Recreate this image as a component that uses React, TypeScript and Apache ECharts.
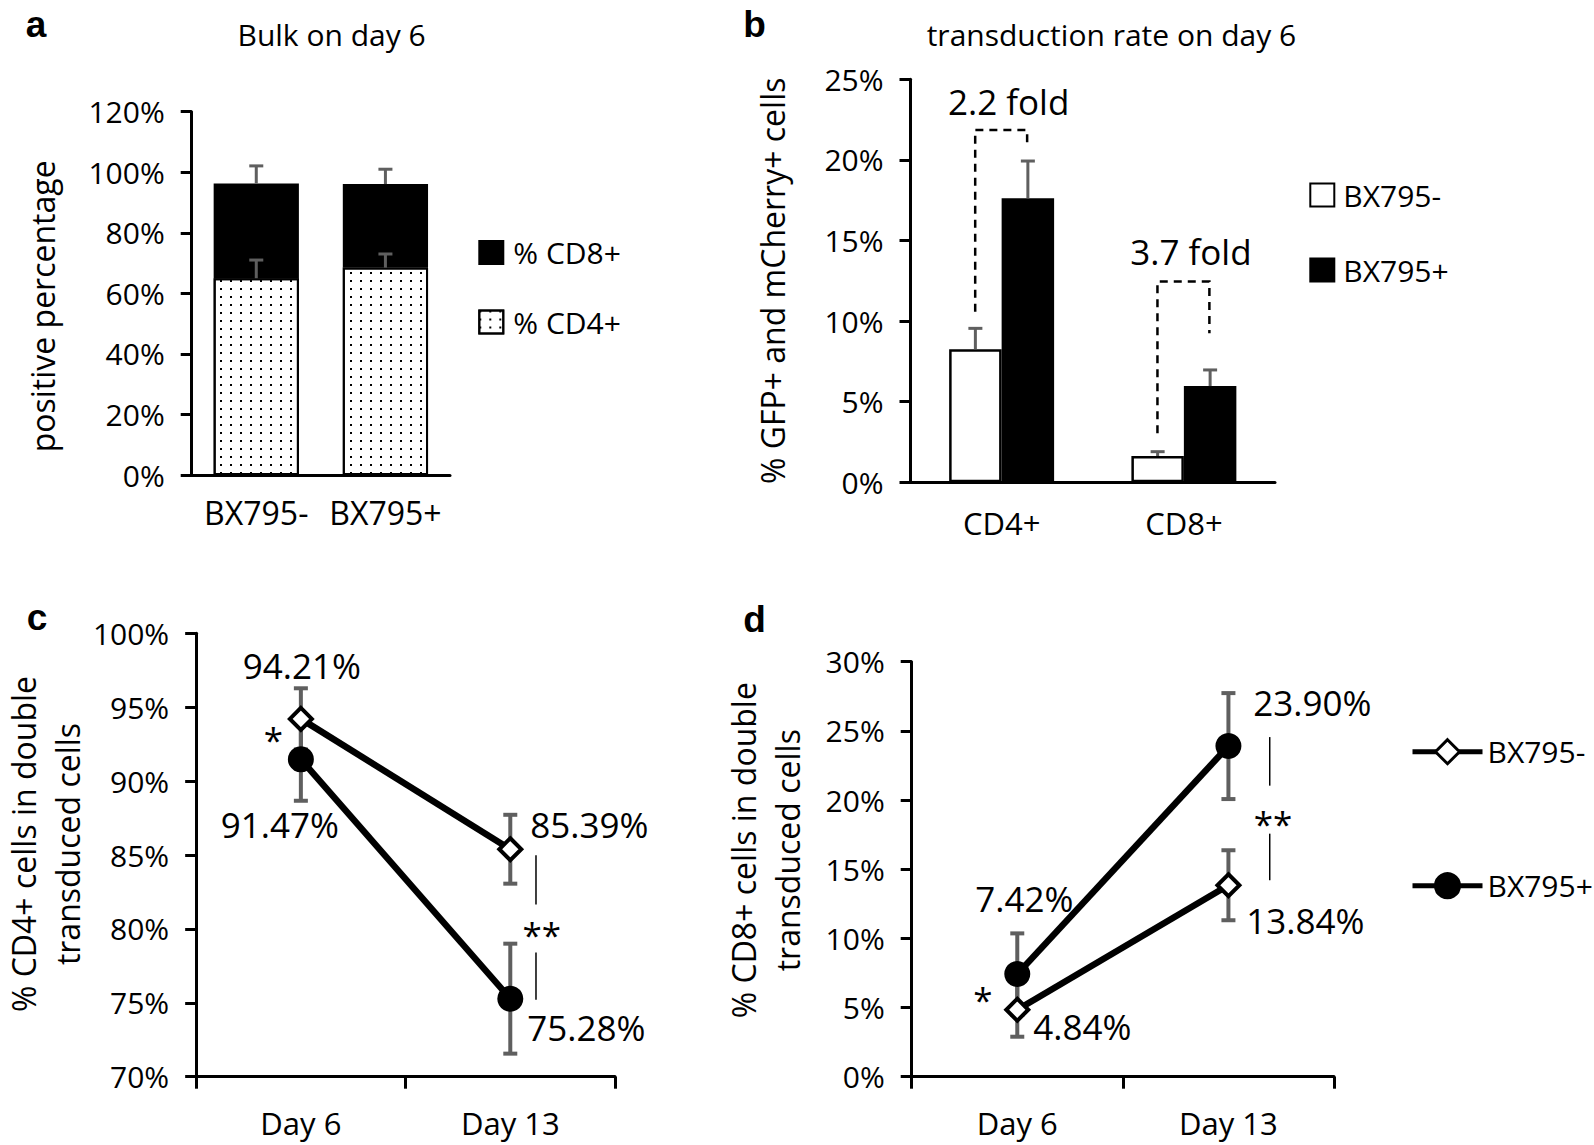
import React, { useEffect, useRef } from "react";
import * as echarts from "echarts";

const FONT = "'Open Sans', 'Liberation Sans', sans-serif";
const LETTER_FONT = "bold 37px 'Liberation Sans', Arial, sans-serif";
const ERR_COLOR = "#5f5f5f";

// ---- panel a: Bulk on day 6 ----
const bulkCategories = ["BX795-", "BX795+"];
const bulkCD4 = [65.0, 68.5];
const bulkCD8 = [31.3, 27.6];
const bulkCD4Err = [6.0, 4.5];
const bulkTotalErr = [5.8, 4.9];

// ---- panel b: transduction rate on day 6 ----
const transCategories = ["CD4+", "CD8+"];
const transMinus = [8.25, 1.63];
const transPlus = [17.62, 5.97];
const transMinusErr = [1.3, 0.27];
const transPlusErr = [2.31, 1.0];
const foldLabels = ["2.2 fold", "3.7 fold"];
const foldBracketLeft = [10.58, 3.04];
const foldBracketTop = [21.86, 12.45];
const foldBracketRight = [20.92, 9.24];
const foldLabelLevel = [23.6, 14.3];

// ---- panels c and d ----
const days = ["Day 6", "Day 13"];
const cd4Minus = [94.21, 85.39];
const cd4MinusErr = [2.07, 2.33];
const cd4Plus = [91.47, 75.28];
const cd4PlusErr = [2.8, 3.72];
const cd8Minus = [4.84, 13.84];
const cd8MinusErr = [1.95, 2.53];
const cd8Plus = [7.42, 23.9];
const cd8PlusErr = [2.94, 3.83];
const sigMarks = ["*", "**"];

// label offsets (style)
const offC = { minus: [[1, -53], [79, -25]], plus: [[-21, 65], [76, 29]] };
const offD = { minus: [[65, 17], [77, 35]], plus: [[7, -76], [84, -44]] };
const sigStyleC = { starDx: -27.5, starDy: 0, lineDx: 25.7, textDx: 31.5, textDy: 11, topAdj: 6, botAdj: 1, gapDy: 4.5 };
const sigStyleD = { starDx: -34.5, starDy: 8, lineDx: 41.3, textDx: 44.7, textDy: 8.3, topAdj: -9, botAdj: -5, gapDy: -6 };

const black = "#000";
const axisLine = { show: true, onZero: false, lineStyle: { color: black, width: 3 } };

function yAxis(gridIndex: number, min: number, max: number, interval: number, name: string, nameGap: number, padding: number[]) {
  return {
    type: "value",
    gridIndex,
    min,
    max,
    interval,
    axisLine,
    axisTick: { show: true, length: 11, lineStyle: { color: black, width: 3 } },
    splitLine: { show: false },
    axisLabel: { formatter: "{value}%", fontSize: 30, fontFamily: FONT, color: black, margin: 27 },
    name,
    nameLocation: "middle",
    nameRotate: 90,
    nameGap,
    nameTextStyle: { fontSize: 32, fontFamily: FONT, color: black, lineHeight: 44, padding },
  };
}

function xAxis(gridIndex: number, data: string[], ticks: boolean, margin: number, fontSize: number) {
  return {
    type: "category",
    gridIndex,
    data,
    axisLine,
    axisTick: { show: ticks, length: 12, interval: 0, lineStyle: { color: black, width: 3 } },
    axisLabel: { fontSize, fontFamily: FONT, color: black, margin, interval: 0 },
  };
}

function errorBars(idx: number, values: number[], errs: number[], offsetFrac: number, plusOnly: boolean, width: number, z: number) {
  return {
    type: "custom",
    xAxisIndex: idx,
    yAxisIndex: idx,
    z,
    silent: true,
    data: values.map((v, i) => [i, v, errs[i]]),
    renderItem: (params: any, api: any) => {
      const i = api.value(0);
      const v = api.value(1);
      const e = api.value(2);
      const base = api.coord([i, v]);
      const band = api.size([1, 0])[0];
      const x = base[0] + offsetFrac * band;
      const yTop = api.coord([i, v + e])[1];
      const yBot = plusOnly ? base[1] : api.coord([i, v - e])[1];
      const style = { stroke: ERR_COLOR, lineWidth: width, fill: null };
      const children: any[] = [
        { type: "line", shape: { x1: x, y1: yTop, x2: x, y2: yBot }, style },
        { type: "line", shape: { x1: x - 7, y1: yTop, x2: x + 7, y2: yTop }, style },
      ];
      if (!plusOnly) children.push({ type: "line", shape: { x1: x - 7, y1: yBot, x2: x + 7, y2: yBot }, style });
      return { type: "group", children };
    },
  };
}

function sigSeries(idx: number, a: number[], b: number[], marks: string[], st: any) {
  return {
    type: "custom",
    xAxisIndex: idx,
    yAxisIndex: idx,
    z: 6,
    silent: true,
    data: a.map((v, i) => [i, v, b[i]]),
    renderItem: (params: any, api: any) => {
      const i = api.value(0);
      const p1 = api.coord([i, api.value(1)]);
      const p2 = api.coord([i, api.value(2)]);
      const x = p1[0];
      const yHigh = Math.min(p1[1], p2[1]);
      const yLow = Math.max(p1[1], p2[1]);
      const mid = (yHigh + yLow) / 2;
      const text = marks[params.dataIndex];
      const ts = { text, fontSize: 35, fontFamily: FONT, fill: black, align: "center", verticalAlign: "middle" };
      if (text.length === 1) {
        return { type: "text", x: x + st.starDx, y: mid + st.starDy, style: ts };
      }
      const gc = mid + st.gapDy;
      const lx = x + st.lineDx;
      const ls = { stroke: black, lineWidth: 1.5 };
      return {
        type: "group",
        children: [
          { type: "line", shape: { x1: lx, y1: yHigh + st.topAdj, x2: lx, y2: gc - 24 }, style: ls },
          { type: "line", shape: { x1: lx, y1: gc + 24, x2: lx, y2: yLow + st.botAdj }, style: ls },
          { type: "text", x: x + st.textDx, y: mid + st.textDy, style: ts },
        ],
      };
    },
  };
}

const dataLabel = {
  show: true,
  position: "inside",
  formatter: (p: any) => Number(p.value).toFixed(2) + "%",
  fontSize: 35,
  fontFamily: FONT,
  color: black,
  textBorderWidth: 0,
};

function lineSeries(idx: number, name: string, values: number[], offs: number[][], diamond: boolean) {
  return {
    type: "line",
    name,
    xAxisIndex: idx,
    yAxisIndex: idx,
    z: 4,
    data: values.map((v, i) => ({ value: v, label: { offset: offs[i] } })),
    symbol: diamond ? "diamond" : "circle",
    symbolSize: diamond ? 22 : 26,
    itemStyle: diamond
      ? { color: "#fff", borderColor: black, borderWidth: 4 }
      : { color: black, borderColor: black, borderWidth: 0 },
    lineStyle: { color: black, width: 6.5 },
    label: dataLabel,
    clip: false,
  };
}

function letter(text: string, x: number, y: number) {
  return { type: "text", x, y, style: { text, font: LETTER_FONT, fill: black, align: "center", verticalAlign: "middle" } };
}

function buildOption(): any {
  const legendText = { fontSize: 30, fontFamily: FONT, color: black };
  return {
    animation: false,
    backgroundColor: "#fff",
    textStyle: { fontFamily: FONT },
    grid: [
      { left: 191.7, top: 111.7, width: 258.3, height: 363.3 },
      { left: 910.5, top: 79.3, width: 364.5, height: 403 },
      { left: 191.7, top: 633.3, width: 423.3, height: 443.4 },
      { left: 911.7, top: 661.7, width: 422.3, height: 415 },
    ],
    xAxis: [
      xAxis(0, bulkCategories, false, 21, 32),
      xAxis(1, transCategories, false, 25, 31),
      xAxis(2, days, true, 31, 31),
      xAxis(3, days, true, 31, 31),
    ],
    yAxis: [
      yAxis(0, 0, 120, 20, "positive percentage", 127, [0, 26, 0, 0]),
      yAxis(1, 0, 25, 5, "% GFP+ and mCherry+ cells", 116, [0, 0, 0, 0]),
      yAxis(2, 70, 100, 5, "% CD4+ cells in double\ntransduced cells", 106, [0, 0, 0, 22]),
      yAxis(3, 0, 30, 5, "% CD8+ cells in double\ntransduced cells", 102.3, [0, 0, 0, 38]),
    ],
    legend: [
      {
        data: ["% CD8+", "% CD4+"],
        orient: "vertical",
        left: 478.3,
        top: 237.5,
        itemWidth: 24,
        itemHeight: 23,
        itemGap: 39.5,
        icon: "rect",
        padding: 0,
        selectedMode: false,
        textStyle: { ...legendText, lineHeight: 23, padding: [0, 0, 0, 5] },
        itemStyle: { borderWidth: 2 },
      },
      {
        data: ["BX795-", "BX795+"],
        orient: "vertical",
        left: 1309.3,
        top: 180,
        itemWidth: 24,
        itemHeight: 23,
        itemGap: 45,
        icon: "rect",
        padding: 0,
        selectedMode: false,
        textStyle: { ...legendText, lineHeight: 23, padding: [0, 0, 0, 4] },
        itemStyle: { borderWidth: 2 },
      },
      {
        data: ["d:BX795-", "d:BX795+"],
        orient: "vertical",
        left: 1410,
        top: 736.7,
        itemWidth: 70,
        itemHeight: 30,
        itemGap: 104,
        padding: 0,
        selectedMode: false,
        formatter: (n: string) => n.replace("d:", ""),
        textStyle: { ...legendText, lineHeight: 30 },
        lineStyle: { width: 5 },
        itemStyle: { borderWidth: 3 },
      },
    ],
    series: [
      // panel a
      {
        type: "bar",
        name: "% CD4+",
        xAxisIndex: 0,
        yAxisIndex: 0,
        stack: "bulk",
        barWidth: "66%",
        data: bulkCD4,
        itemStyle: {
          color: "#fff",
          borderColor: black,
          borderWidth: 2,
          decal: { symbol: "rect", symbolSize: 1, dashArrayX: [2, 8], dashArrayY: [2, 6], color: black, rotation: 0 },
        },
      },
      {
        type: "bar",
        name: "% CD8+",
        xAxisIndex: 0,
        yAxisIndex: 0,
        stack: "bulk",
        barWidth: "66%",
        data: bulkCD8,
        itemStyle: { color: black, borderColor: black, borderWidth: 2 },
      },
      errorBars(0, bulkCD4, bulkCD4Err, 0, true, 3, 5),
      errorBars(0, bulkCD4.map((v, i) => v + bulkCD8[i]), bulkTotalErr, 0, true, 3, 5),
      // panel b
      {
        type: "bar",
        name: "BX795-",
        xAxisIndex: 1,
        yAxisIndex: 1,
        barWidth: "28.8%",
        barGap: "0%",
        data: transMinus,
        itemStyle: { color: "#fff", borderColor: black, borderWidth: 2.5 },
      },
      {
        type: "bar",
        name: "BX795+",
        xAxisIndex: 1,
        yAxisIndex: 1,
        barWidth: "28.8%",
        barGap: "0%",
        data: transPlus,
        itemStyle: { color: black, borderColor: black, borderWidth: 2.5 },
      },
      errorBars(1, transMinus, transMinusErr, -0.144, true, 3, 5),
      errorBars(1, transPlus, transPlusErr, 0.144, true, 3, 5),
      {
        type: "custom",
        xAxisIndex: 1,
        yAxisIndex: 1,
        z: 6,
        silent: true,
        data: foldLabels.map((_, i) => [i, foldBracketLeft[i], foldBracketTop[i], foldBracketRight[i], foldLabelLevel[i]]),
        renderItem: (params: any, api: any) => {
          const i = api.value(0);
          const band = api.size([1, 0])[0];
          const cx = api.coord([i, 0])[0];
          const xL = cx - 0.145 * band;
          const xR = cx + 0.14 * band;
          const yLB = api.coord([i, api.value(1)])[1];
          const yT = api.coord([i, api.value(2)])[1];
          const yRB = api.coord([i, api.value(3)])[1];
          const yLab = api.coord([i, api.value(4)])[1];
          return {
            type: "group",
            children: [
              {
                type: "polyline",
                shape: { points: [[xL, yLB], [xL, yT], [xR, yT], [xR, yRB]] },
                style: { stroke: black, lineWidth: 2.5, lineDash: [8, 6], fill: null },
              },
              {
                type: "text",
                x: cx + 7,
                y: yLab,
                style: { text: foldLabels[params.dataIndex], fontSize: 35, fontFamily: FONT, fill: black, align: "center", verticalAlign: "middle" },
              },
            ],
          };
        },
      },
      // panel c
      errorBars(2, cd4Minus, cd4MinusErr, 0, false, 4, 2),
      errorBars(2, cd4Plus, cd4PlusErr, 0, false, 4, 2),
      lineSeries(2, "c:BX795-", cd4Minus, offC.minus, true),
      lineSeries(2, "c:BX795+", cd4Plus, offC.plus, false),
      sigSeries(2, cd4Minus, cd4Plus, sigMarks, sigStyleC),
      // panel d
      errorBars(3, cd8Minus, cd8MinusErr, 0, false, 4, 2),
      errorBars(3, cd8Plus, cd8PlusErr, 0, false, 4, 2),
      lineSeries(3, "d:BX795-", cd8Minus, offD.minus, true),
      lineSeries(3, "d:BX795+", cd8Plus, offD.plus, false),
      sigSeries(3, cd8Minus, cd8Plus, sigMarks, sigStyleD),
    ],
    graphic: [
      letter("a", 36, 24),
      letter("b", 754.5, 24.5),
      letter("c", 37, 617),
      letter("d", 754.5, 619),
      { type: "text", x: 331.6, y: 34.7, style: { text: "Bulk on day 6", fontSize: 30, fontFamily: FONT, fill: black, align: "center", verticalAlign: "middle" } },
      { type: "text", x: 1111.4, y: 34.9, style: { text: "transduction rate on day 6", fontSize: 30, fontFamily: FONT, fill: black, align: "center", verticalAlign: "middle" } },
    ],
  };
}

export default function App() {
  const ref = useRef<HTMLDivElement>(null);
  useEffect(() => {
    document.body.style.margin = "0";
    const chart = echarts.init(ref.current!, undefined, { renderer: "svg" });
    chart.setOption(buildOption());
    return () => chart.dispose();
  }, []);
  return <div ref={ref} style={{ width: 1594, height: 1145 }} />;
}
